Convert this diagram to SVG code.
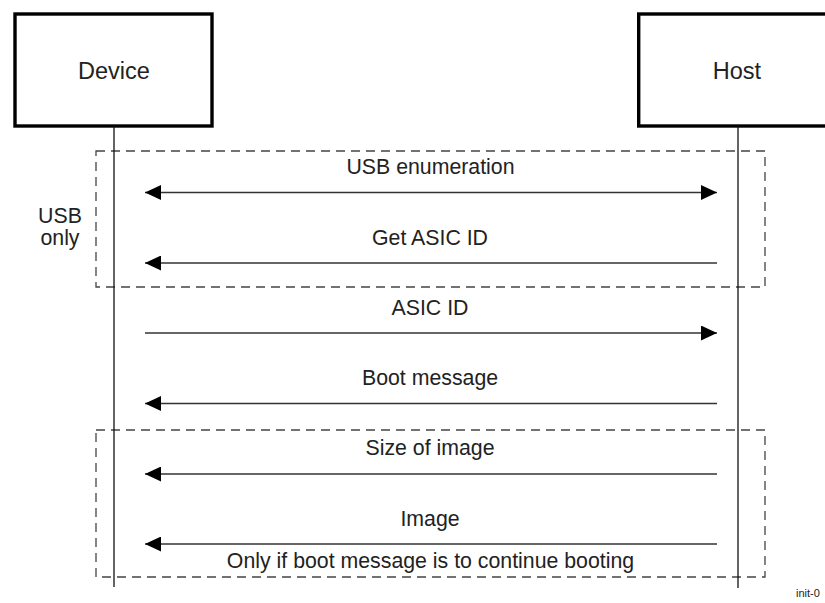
<svg xmlns="http://www.w3.org/2000/svg" width="825" height="603" viewBox="0 0 825 603">
<style>
.box{fill:#fff;stroke:#000;stroke-width:3.4}
.life{stroke:#111;stroke-width:1.3;fill:none}
.msg{stroke:#333;stroke-width:1.4;fill:none}
.frame{fill:none;stroke:#444;stroke-width:1.3;stroke-dasharray:9 6}
text{font-family:"Liberation Sans",Arial,sans-serif;fill:#222}
.title{font-size:23.5px;text-anchor:middle}
.lbl{font-size:21.3px;text-anchor:middle}
.note{font-size:11px}
</style>
<defs>
<marker id="ah" viewBox="0 0 16 15" refX="16" refY="7.5" markerWidth="16" markerHeight="15" markerUnits="userSpaceOnUse" orient="auto-start-reverse">
<path d="M0,0 L16,7.5 L0,15 Z" fill="#000"/>
</marker>
</defs>
<g id="frames">
<rect class="frame" x="96" y="151" width="669" height="136"/>
<rect class="frame" x="96" y="430" width="669" height="147"/>
<text class="lbl" x="60" y="223">USB</text>
<text class="lbl" x="60" y="245">only</text>
</g>
<g id="device">
<rect class="box" x="15" y="14" width="197" height="112"/>
<text class="title" x="114" y="79">Device</text>
<line class="life" x1="114" y1="126" x2="114" y2="587"/>
</g>
<g id="host">
<rect class="box" x="638.7" y="14" width="197" height="112"/>
<text class="title" x="737" y="79">Host</text>
<line class="life" x1="738" y1="126" x2="738" y2="588"/>
</g>
<g id="connectors">
<line class="msg" x1="145" y1="192.5" x2="717" y2="192.5" marker-start="url(#ah)" marker-end="url(#ah)"/>
<line class="msg" x1="717" y1="263" x2="145" y2="263" marker-end="url(#ah)"/>
<line class="msg" x1="145" y1="333" x2="717" y2="333" marker-end="url(#ah)"/>
<line class="msg" x1="717" y1="403.5" x2="145" y2="403.5" marker-end="url(#ah)"/>
<line class="msg" x1="717" y1="474" x2="145" y2="474" marker-end="url(#ah)"/>
<line class="msg" x1="717" y1="544" x2="145" y2="544" marker-end="url(#ah)"/>
</g>
<g id="labels">
<text class="lbl" x="430.5" y="174">USB enumeration</text>
<text class="lbl" x="430" y="245">Get ASIC ID</text>
<text class="lbl" x="430" y="315">ASIC ID</text>
<text class="lbl" x="430" y="385">Boot message</text>
<text class="lbl" x="430" y="455">Size of image</text>
<text class="lbl" x="430" y="526">Image</text>
<text class="lbl" x="430.5" y="568">Only if boot message is to continue booting</text>
</g>
<text class="note" x="796" y="597">init-0</text>
</svg>
